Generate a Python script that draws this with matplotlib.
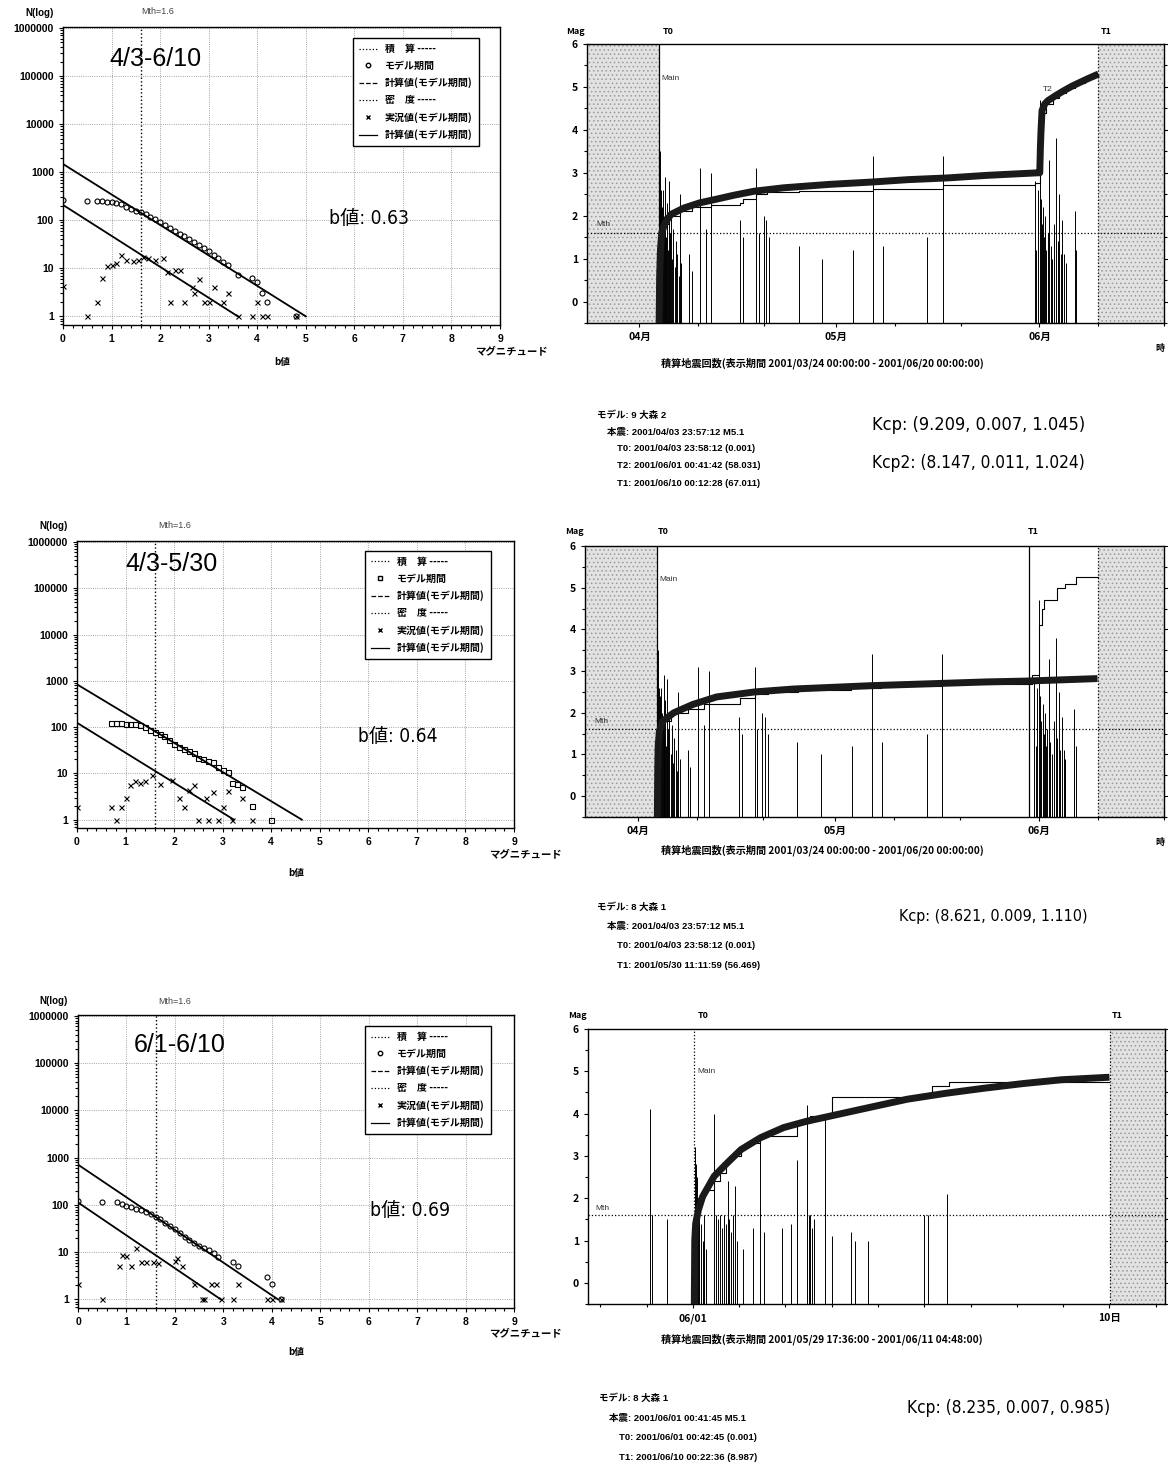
import matplotlib
matplotlib.use('Agg')
import matplotlib.pyplot as plt
import matplotlib.dates as mdates
from matplotlib import font_manager as fm
from matplotlib.lines import Line2D
from matplotlib.ticker import MultipleLocator, FixedLocator, FixedFormatter
from matplotlib.font_manager import FontProperties
from datetime import datetime
import numpy as np

plt.rcParams['font.family'] = ['Liberation Sans', 'Noto Sans CJK JP', 'DejaVu Sans']
plt.rcParams['hatch.linewidth'] = 0.6
plt.rcParams['axes.linewidth'] = 1.0

W, H = 1168, 1465
JP = ['Noto Sans CJK JP', 'DejaVu Sans']


def pick_narrow():
    # the big hand-written style labels are tall and narrow; use a condensed face if there is one
    for f in fm.fontManager.ttflist:
        if f.name == 'Liberation Sans Narrow':
            return dict(family=['Liberation Sans Narrow', 'Noto Sans CJK JP'])
    for f in fm.fontManager.ttflist:
        if f.name == 'DejaVu Sans' and f.stretch == 'condensed':
            return dict(family=['DejaVu Sans', 'Noto Sans CJK JP'], fontstretch='condensed')
    return dict(family=['Liberation Sans', 'Noto Sans CJK JP'])


NARROW = pick_narrow()

# ---------------- G-R (b value) panels ----------------
N_TICKS = [1, 10, 100, 1000, 10000, 100000, 1000000]
N_TICK_LABELS = ['1', '10', '100', '1000', '10000', '100000', '1000000']
LEGEND_LABELS = ['積　算 -----', 'モデル期間', '計算値(モデル期間)',
                 '密　度 -----', '実況値(モデル期間)', '計算値(モデル期間)']

GR1_PERIOD, GR1_B = '4/3-6/10', 'b値: 0.63'
GR1_CUM_M = [0.0, 0.5, 0.7, 0.8, 0.9, 1.0, 1.1, 1.2, 1.3, 1.4, 1.5, 1.6, 1.7, 1.8, 1.9, 2.0,
             2.1, 2.2, 2.3, 2.4, 2.5, 2.6, 2.7, 2.8, 2.9, 3.0, 3.1, 3.2, 3.3, 3.4, 3.6, 3.9,
             4.0, 4.1, 4.2, 4.8]
GR1_CUM_N = [260, 255, 250, 248, 245, 240, 230, 218, 192, 175, 158, 146, 132, 118, 104, 90,
             78, 68, 60, 52, 46, 40, 35, 31, 27, 23, 19, 16, 13.5, 11.5, 7.2, 6.3,
             5.2, 3.0, 2.0, 1]
GR1_CUM_FIT_M, GR1_CUM_FIT_N = [0, 5.0], [1480, 1]
GR1_DEN_M = [0.0, 0.5, 0.7, 0.8, 0.9, 1.0, 1.1, 1.2, 1.3, 1.45, 1.55, 1.65, 1.75, 1.9, 2.05,
             2.15, 2.2, 2.3, 2.4, 2.5, 2.65, 2.7, 2.8, 2.9, 3.0, 3.1, 3.3, 3.4, 3.6, 3.9,
             4.0, 4.1, 4.2, 4.8]
GR1_DEN_N = [4.2, 1, 2, 6.3, 11, 11.6, 13, 19, 14.7, 14.3, 14.7, 17, 16, 14.7, 16.7,
             8.4, 2, 9, 9.4, 2, 4.1, 3, 6.1, 2, 2, 4.1, 2, 3, 1, 1,
             2, 1, 1, 1]
GR1_DEN_FIT_M, GR1_DEN_FIT_N = [0, 3.6], [208, 1]

GR2_PERIOD, GR2_B = '4/3-5/30', 'b値: 0.64'
GR2_CUM_M = [0.7, 0.8, 0.9, 1.0, 1.1, 1.2, 1.3, 1.4, 1.5, 1.6, 1.7, 1.8, 1.9, 2.0, 2.1, 2.2,
             2.3, 2.4, 2.5, 2.6, 2.7, 2.8, 2.9, 3.0, 3.1, 3.2, 3.3, 3.4, 3.6, 4.0]
GR2_CUM_N = [120, 120, 120, 119, 118, 115, 110, 98, 88, 80, 70, 63, 52, 44, 37, 33,
             30, 27, 22, 20, 18.5, 17.4, 13.5, 12, 10.5, 6.2, 5.8, 5, 2, 1]
GR2_CUM_FIT_M, GR2_CUM_FIT_N = [0, 4.63], [838, 1]
GR2_DEN_M = [0.0, 0.7, 0.8, 0.9, 1.0, 1.1, 1.2, 1.3, 1.4, 1.55, 1.7, 1.95, 2.1, 2.2, 2.3,
             2.4, 2.5, 2.65, 2.7, 2.8, 2.9, 3.0, 3.1, 3.2, 3.4, 3.6]
GR2_DEN_N = [1.9, 1.9, 1, 1.9, 3, 5.7, 6.9, 6.1, 6.7, 9.3, 5.8, 7.2, 2.9, 1.9, 4.4,
             5.7, 1, 2.9, 1, 4, 1, 1.9, 4.2, 1, 2.9, 1]
GR2_DEN_FIT_M, GR2_DEN_FIT_N = [0, 3.23], [124, 1]

GR3_PERIOD, GR3_B = '6/1-6/10', 'b値: 0.69'
GR3_CUM_M = [0.0, 0.5, 0.8, 0.9, 1.0, 1.1, 1.2, 1.3, 1.4, 1.5, 1.6, 1.7, 1.8, 1.9, 2.0,
             2.1, 2.2, 2.3, 2.4, 2.5, 2.6, 2.7, 2.8, 2.9, 3.2, 3.3, 3.9, 4.0, 4.2]
GR3_CUM_N = [122, 113, 113, 105, 97, 90, 83, 77, 70, 63, 56, 50, 42, 36, 31,
             25, 21, 18, 15.5, 13.6, 12.5, 11.2, 9.5, 7.8, 6.3, 5, 3, 2.1, 1]
GR3_CUM_FIT_M, GR3_CUM_FIT_N = [0, 4.13], [715, 1]
GR3_DEN_M = [0.0, 0.5, 0.85, 0.9, 1.0, 1.1, 1.2, 1.3, 1.4, 1.55, 1.65, 2.0, 2.05, 2.15,
             2.4, 2.55, 2.6, 2.75, 2.85, 2.95, 3.2, 3.3, 3.9, 4.0, 4.2]
GR3_DEN_N = [2.1, 1, 5.1, 8.7, 8.3, 5.1, 12.5, 6.3, 6.3, 6.3, 6, 6.5, 7.5, 5.1,
             2.1, 1, 1, 2.1, 2.1, 1, 1, 2.1, 1, 1, 1]
GR3_DEN_FIT_M, GR3_DEN_FIT_N = [0, 2.95], [113, 1]

# ---------------- aftershock sequence panels ----------------
# days counted from 2001/03/24 00:00 (panels 1, 2)
SEQ_START = datetime(2001, 3, 24)
SEQ_END = datetime(2001, 6, 20)
EV_DAY = [11.00, 11.12, 11.24, 11.35, 11.47, 11.59, 11.71, 11.83, 11.95, 12.06, 12.18,
          12.30, 12.48, 12.65, 12.83, 13.01, 13.19, 13.36, 13.54, 13.78, 14.01, 14.13,
          14.37, 15.61, 16.02, 17.20, 18.09, 18.86, 23.40, 23.82, 25.77, 26.18, 26.95,
          27.36, 27.83, 32.26, 35.81, 40.53, 43.61, 45.08, 51.93, 54.30, 68.29, 68.47,
          68.71, 69.03, 69.18, 69.36, 69.54, 69.71, 69.89, 70.07, 70.25, 70.48, 70.72,
          70.95, 71.25, 71.54, 71.78, 72.02, 72.25, 72.49, 72.73, 73.02, 74.38, 74.62]
EV_MAG = [5.1, 3.5, 2.6, 2.4, 2.2, 2.6, 2.0, 1.8, 2.9, 1.5, 2.3,
          1.2, 2.8, 1.6, 2.0, 1.0, 1.7, 0.8, 1.4, 1.1, 0.6, 2.5,
          0.9, 1.1, 0.7, 3.1, 1.7, 3.0, 1.9, 1.5, 3.1, 1.6, 2.0,
          1.9, 1.5, 1.3, 1.0, 1.2, 3.4, 1.3, 1.5, 3.4, 2.8, 1.2,
          2.6, 4.7, 2.4, 1.8, 2.2, 1.5, 2.0, 1.2, 1.6, 3.3, 1.3,
          1.0, 1.8, 3.8, 1.4, 2.5, 1.1, 1.9, 1.1, 0.9, 2.1, 1.2]

S1_T0, S1_T1 = datetime(2001, 4, 3, 23, 58, 12), datetime(2001, 6, 10, 0, 12, 28)
S1_FIT_DAY = [11.0, 11.08, 11.2, 11.4, 11.9, 12.8, 14.8, 17.2, 19.6, 22.5, 25.5, 30, 37, 43,
              49, 55, 61, 68.9, 69.05, 69.15, 69.25, 69.4, 69.8, 70.3, 71.5, 72.7, 74, 75.1,
              76.5, 77.7, 78.0]
S1_FIT_VAL = [-0.5, 0.6, 1.2, 1.6, 1.83, 2.03, 2.18, 2.3, 2.38, 2.48, 2.57, 2.65, 2.73, 2.78,
              2.84, 2.88, 2.94, 3.0, 3.0, 3.6, 4.0, 4.45, 4.6, 4.68, 4.8, 4.91, 5.02, 5.1,
              5.2, 5.28, 5.3]
S1_OBS_DAY = [11.0, 11.05, 11.3, 11.6, 12.5, 14.2, 16.0, 18.9, 23.4, 23.8, 25.8, 27.4, 32.3,
              40.5, 43.6, 54.3, 68.3, 69.03, 69.2, 69.5, 70.0, 71.0, 72.0, 73.0, 74.4, 76.0,
              77.5, 78.0]
S1_OBS_VAL = [-0.5, 1.0, 1.5, 1.8, 2.0, 2.1, 2.2, 2.25, 2.3, 2.4, 2.5, 2.55, 2.57,
              2.58, 2.62, 2.72, 2.75, 3.3, 4.0, 4.4, 4.6, 4.75, 4.85, 4.98, 5.08, 5.2,
              5.28, 5.28]

S2_T0, S2_T1 = datetime(2001, 4, 3, 23, 58, 12), datetime(2001, 5, 30, 11, 11, 59)
S2_DATA_END = datetime(2001, 6, 10, 0, 12, 28)
S2_FIT_DAY = [11.0, 11.05, 11.12, 11.3, 11.8, 13.5, 16.4, 20, 25.8, 31.7, 37.6, 43.5, 49.4,
              55.2, 61, 67, 72.5, 77.9]
S2_FIT_VAL = [-0.5, 0.6, 1.2, 1.55, 1.8, 2.0, 2.2, 2.38, 2.5, 2.57, 2.61, 2.65, 2.68,
              2.71, 2.74, 2.76, 2.79, 2.82]
S2_OBS_DAY = [11.0, 11.05, 11.3, 11.7, 13.0, 15.6, 18.1, 23.5, 25.8, 27.8, 32.3, 40.5, 45.0,
              54.3, 67.9, 69.03, 69.4, 69.7, 71.7, 72.9, 74.6, 77.9]
S2_OBS_VAL = [-0.5, 1.0, 1.5, 1.8, 2.0, 2.1, 2.2, 2.35, 2.45, 2.5, 2.55, 2.6, 2.65,
              2.7, 2.9, 4.1, 4.5, 4.7, 5.0, 5.1, 5.25, 5.25]

# panel 3: days counted from 2001/06/01 00:00
S3_BASE = datetime(2001, 6, 1)
S3_START, S3_END = datetime(2001, 5, 29, 17, 36), datetime(2001, 6, 11, 4, 48)
S3_T0, S3_T1 = datetime(2001, 6, 1, 0, 42, 45), datetime(2001, 6, 10, 0, 22, 36)
S3_TICKS = [datetime(2001, 6, 1), datetime(2001, 6, 10)]
S3_TICK_LABELS = ['06/01', '10日']
S3_EV_DAY = [-0.92, -0.875, -0.56, 0.04, 0.07, 0.09, 0.12, 0.14, 0.175, 0.21, 0.25, 0.29,
             0.46, 0.50, 0.54, 0.58, 0.625, 0.67, 0.71, 0.75, 0.79, 0.83, 0.875, 0.92,
             0.96, 1.08, 1.29, 1.44, 1.54, 1.92, 2.125, 2.25, 2.46, 2.50, 2.54, 2.58,
             2.625, 2.86, 3.0, 3.42, 3.5, 3.79, 5.0, 5.08, 5.5]
S3_EV_MAG = [4.1, 1.6, 1.5, 3.2, 2.8, 2.5, 2.0, 1.6, 1.4, 1.0, 1.6, 0.8,
             4.0, 1.6, 1.5, 1.6, 1.3, 1.6, 1.4, 2.4, 1.5, 1.2, 1.6, 2.3,
             1.0, 0.8, 1.3, 3.3, 1.2, 1.3, 1.4, 2.9, 4.2, 1.6, 1.6, 1.3,
             1.5, 3.9, 1.1, 1.2, 1.0, 1.0, 1.6, 1.6, 2.1]
S3_FIT_DAY = [0.03, 0.04, 0.06, 0.12, 0.21, 0.46, 0.71, 1.04, 1.46, 1.96, 2.46, 2.96, 3.79,
              4.63, 5.46, 6.29, 7.13, 7.96, 9.0]
S3_FIT_VAL = [-0.5, 1.0, 1.4, 1.73, 2.04, 2.52, 2.8, 3.15, 3.43, 3.67, 3.82, 3.94, 4.14,
              4.34, 4.48, 4.6, 4.71, 4.8, 4.86]
S3_OBS_DAY = [0.03, 0.035, 0.06, 0.12, 0.25, 0.46, 0.58, 0.71, 0.79, 1.04, 1.21, 1.46, 2.25,
              2.54, 3.0, 5.17, 5.54, 9.0]
S3_OBS_VAL = [-0.5, 1.0, 1.6, 2.0, 2.2, 2.4, 2.6, 2.85, 3.0, 3.2, 3.3, 3.47, 3.78,
              3.95, 4.4, 4.65, 4.75, 4.75]

MTH = 1.6

# ---------------- text blocks ----------------
INFO1 = ['モデル: 9 大森 2', '本震: 2001/04/03 23:57:12 M5.1', 'T0: 2001/04/03 23:58:12 (0.001)',
         'T2: 2001/06/01 00:41:42 (58.031)', 'T1: 2001/06/10 00:12:28 (67.011)']
KCP1 = ['Kcp: (9.209, 0.007, 1.045)', 'Kcp2: (8.147, 0.011, 1.024)']
INFO2 = ['モデル: 8 大森 1', '本震: 2001/04/03 23:57:12 M5.1', 'T0: 2001/04/03 23:58:12 (0.001)',
         'T1: 2001/05/30 11:11:59 (56.469)']
KCP2 = ['Kcp: (8.621, 0.009, 1.110)']
INFO3 = ['モデル: 8 大森 1', '本震: 2001/06/01 00:41:45 M5.1', 'T0: 2001/06/01 00:42:45 (0.001)',
         'T1: 2001/06/10 00:22:36 (8.987)']
KCP3 = ['Kcp: (8.235, 0.007, 0.985)']
XLAB1 = '積算地震回数(表示期間 2001/03/24 00:00:00 - 2001/06/20 00:00:00)'
XLAB3 = '積算地震回数(表示期間 2001/05/29 17:36:00 - 2001/06/11 04:48:00)'

fig = plt.figure(figsize=(W / 100, H / 100), dpi=100)
fig.patch.set_facecolor('white')
renderer = fig.canvas.get_renderer()


def box(l, t, r, b):
    return fig.add_axes([l / W, 1 - b / H, (r - l) / W, (b - t) / H])


def ftext(x, y, s, **kw):
    kw.setdefault('va', 'center')
    return fig.text(x / W, 1 - y / H, s, **kw)


def fit_width(t, width_px):
    # scale a label so that it covers the same width as in the scan
    w = t.get_window_extent(renderer).width
    t.set_fontsize(t.get_fontsize() * width_px / w)


def gr_panel(rect, cm, cn, cfm, cfn, dm, dn, dfm, dfn, marker, period, bval, tpos):
    ax = box(*rect)
    ax.set_yscale('log')
    ax.set_xlim(0, 9)
    ax.set_ylim(0.66, 1.05e6)
    ax.grid(True, which='major', ls=':', lw=0.6, color='#888888')
    ax.axvline(MTH, ls=':', lw=1.0, color='k')
    ax.plot(cfm, cfn, '-', color='k', lw=1.3)
    ax.plot(dfm, dfn, '-', color='k', lw=1.3)
    ax.plot(cm, cn, ls='none', marker=marker, ms=3.6, mfc='none', mec='k', mew=0.8)
    ax.plot(dm, dn, ls='none', marker='x', ms=3.6, color='k', mew=0.8)
    ax.set_yticks(N_TICKS)
    ax.set_yticklabels(N_TICK_LABELS)
    ax.xaxis.set_major_locator(MultipleLocator(1))
    ax.xaxis.set_minor_locator(MultipleLocator(0.2))
    ax.tick_params(which='both', direction='out', labelsize=7.5, length=3, width=0.8)
    ax.tick_params(which='minor', length=2)
    for lab in ax.get_xticklabels() + ax.get_yticklabels():
        lab.set_fontweight('bold')
    handles = [Line2D([], [], ls=':', color='k', lw=0.9),
               Line2D([], [], ls='none', marker=marker, mfc='none', mec='k', ms=3.2),
               Line2D([], [], ls='--', color='k', lw=0.9),
               Line2D([], [], ls=':', color='k', lw=0.9),
               Line2D([], [], ls='none', marker='x', color='k', ms=3.2),
               Line2D([], [], ls='-', color='k', lw=0.9)]
    l, t, r, b = rect
    lx, ly = tpos['legend']
    leg = ax.legend(handles, LEGEND_LABELS, loc='upper left',
                    bbox_to_anchor=((lx - l) / (r - l), 1 - (ly - t) / (b - t)),
                    borderaxespad=0, fancybox=False, edgecolor='k', framealpha=1,
                    handlelength=1.8, handletextpad=0.8, labelspacing=0.68,
                    borderpad=0.6, prop=FontProperties(family=JP, weight='bold', size=7.2))
    leg.get_frame().set_linewidth(1.0)
    ftext(*tpos['period'], period, fontsize=18, ha='center')
    bt = ftext(*tpos['b'], bval, fontsize=18, ha='center', **NARROW)
    fit_width(bt, 80)
    ftext(*tpos['nlog'], 'N(log)', fontsize=7, ha='center', weight='bold')
    ftext(*tpos['mth'], 'Mth=1.6', fontsize=6.5, ha='center', color='#444444')
    ftext(*tpos['mag'], 'マグニチュード', fontsize=7.5, ha='left', weight='bold', family=JP)
    ftext(*tpos['bl'], 'b値', fontsize=7, ha='center', weight='bold', family=JP)
    return ax


def seq_panel(rect, base, start, end, ev_d, ev_m, fit_d, fit_v, obs_d, obs_v,
              shades, lines, labels):
    ax = box(*rect)
    b = mdates.date2num(base)
    ax.set_xlim(mdates.date2num(start), mdates.date2num(end))
    ax.set_ylim(-0.5, 6)
    for s0, s1 in shades:
        ax.axvspan(mdates.date2num(s0), mdates.date2num(s1), facecolor='#e2e2e2',
                   edgecolor='#9a9a9a', hatch='....', lw=0, zorder=0)
    for t, ls in lines:
        ax.axvline(mdates.date2num(t), color='k', ls=ls, lw=0.9, zorder=1)
    ax.axhline(MTH, color='k', ls=':', lw=0.9)
    ax.vlines(b + np.array(ev_d), -0.5, ev_m, color='k', lw=0.7, zorder=2)
    ax.plot(b + np.array(obs_d), obs_v, color='k', lw=0.8, drawstyle='steps-post', zorder=3)
    ax.plot(b + np.array(fit_d), fit_v, color='#1a1a1a', lw=5.0, solid_capstyle='butt',
            zorder=4)
    ax.yaxis.set_major_locator(MultipleLocator(1))
    ax.yaxis.set_minor_locator(MultipleLocator(0.5))
    ax.tick_params(which='both', direction='out', labelsize=7.5, length=3, width=0.8)
    ax.tick_params(which='minor', length=2)
    ax.tick_params(axis='y', which='both', right=True)
    for txt, d, v in labels:
        ax.text(b + d, v, txt, fontsize=6, color='#333333', va='center')
    return ax


def finish_seq(ax, xlab_y, xlab, toks):
    for lab in ax.get_xticklabels() + ax.get_yticklabels():
        lab.set_fontweight('bold')
        lab.set_family(JP)
    ftext(822, xlab_y, xlab, fontsize=7.3, ha='center', weight='bold', family=JP)
    for s, x, y in toks:
        ftext(x, y, s, fontsize=6.5, ha='center', weight='bold', family=JP)


def info_block(x0, ys, lines, kx, kys, kcp, kw):
    indents = [0, 10] + [20] * (len(lines) - 2)
    for s, y, dx in zip(lines, ys, indents):
        ftext(x0 + dx, y, s, fontsize=6.8, ha='left', weight='bold',
              family=['Liberation Sans'] + JP)
    for s, y, w in zip(kcp, kys, kw):
        t = ftext(kx, y, s, fontsize=16, ha='left', **NARROW)
        fit_width(t, w)


# ---- left column ----
gr_panel((63, 27, 500, 325), GR1_CUM_M, GR1_CUM_N, GR1_CUM_FIT_M, GR1_CUM_FIT_N,
         GR1_DEN_M, GR1_DEN_N, GR1_DEN_FIT_M, GR1_DEN_FIT_N, 'o', GR1_PERIOD, GR1_B,
         dict(legend=(353, 38), period=(155, 59), b=(369, 219), nlog=(40, 13),
              mth=(158, 12), mag=(475, 351), bl=(282, 362)))
gr_panel((77, 541, 514, 828), GR2_CUM_M, GR2_CUM_N, GR2_CUM_FIT_M, GR2_CUM_FIT_N,
         GR2_DEN_M, GR2_DEN_N, GR2_DEN_FIT_M, GR2_DEN_FIT_N, 's', GR2_PERIOD, GR2_B,
         dict(legend=(365, 551), period=(172, 564), b=(398, 736), nlog=(54, 526),
              mth=(175, 526), mag=(489, 854), bl=(296, 873)))
gr_panel((78, 1015, 514, 1308), GR3_CUM_M, GR3_CUM_N, GR3_CUM_FIT_M, GR3_CUM_FIT_N,
         GR3_DEN_M, GR3_DEN_N, GR3_DEN_FIT_M, GR3_DEN_FIT_N, 'o', GR3_PERIOD, GR3_B,
         dict(legend=(365, 1026), period=(180, 1045), b=(410, 1210), nlog=(54, 1001),
              mth=(175, 1001), mag=(489, 1333), bl=(296, 1352)))

# ---- right column ----
ax1 = seq_panel((587, 44, 1164, 323), SEQ_START, SEQ_START, SEQ_END, EV_DAY, EV_MAG,
                S1_FIT_DAY, S1_FIT_VAL, S1_OBS_DAY, S1_OBS_VAL,
                [(SEQ_START, S1_T0), (S1_T1, SEQ_END)], [(S1_T0, '-'), (S1_T1, ':')],
                [('Main', 11.3, 5.2), ('T2', 69.6, 4.95), ('Mth', 1.5, 1.8)])
ax2 = seq_panel((585, 546, 1164, 817), SEQ_START, SEQ_START, SEQ_END, EV_DAY, EV_MAG,
                S2_FIT_DAY, S2_FIT_VAL, S2_OBS_DAY, S2_OBS_VAL,
                [(SEQ_START, S2_T0), (S2_DATA_END, SEQ_END)],
                [(S2_T0, '-'), (S2_T1, '-'), (S2_DATA_END, ':')],
                [('Main', 11.3, 5.2), ('Mth', 1.5, 1.8)])
for ax in (ax1, ax2):
    ax.xaxis.set_major_locator(mdates.MonthLocator())
    ax.xaxis.set_major_formatter(mdates.DateFormatter('%m月'))
    ax.xaxis.set_minor_locator(mdates.DayLocator(bymonthday=[10, 20]))
ax3 = seq_panel((588, 1029, 1165, 1304), S3_BASE, S3_START, S3_END, S3_EV_DAY, S3_EV_MAG,
                S3_FIT_DAY, S3_FIT_VAL, S3_OBS_DAY, S3_OBS_VAL,
                [(S3_T1, S3_END)], [(S3_T0, ':'), (S3_T1, ':')],
                [('Main', 0.1, 5.0), ('Mth', -2.1, 1.75)])
ax3.xaxis.set_major_locator(FixedLocator(mdates.date2num(S3_TICKS)))
ax3.xaxis.set_major_formatter(FixedFormatter(S3_TICK_LABELS))
ax3.xaxis.set_minor_locator(mdates.DayLocator())

finish_seq(ax1, 363, XLAB1, [('Mag', 575, 31), ('T0', 668, 31), ('T1', 1106, 31), ('時', 1160, 348)])
finish_seq(ax2, 850, XLAB1, [('Mag', 574, 532), ('T0', 663, 532), ('T1', 1033, 532), ('時', 1160, 842)])
finish_seq(ax3, 1339, XLAB3, [('Mag', 577, 1016), ('T0', 703, 1015), ('T1', 1117, 1015)])

info_block(597, [415, 432, 449, 466, 483], INFO1, 872, [425, 463], KCP1, [216, 215])
info_block(597, [907, 926, 946, 965], INFO2, 899, [917], KCP2, [190])
info_block(599, [1398, 1418, 1438, 1458], INFO3, 907, [1408], KCP3, [205])

fig.savefig('out.png', dpi=100, facecolor='white')
